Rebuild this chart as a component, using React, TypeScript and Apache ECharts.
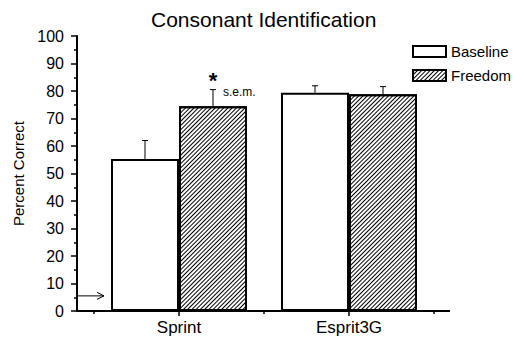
import React, { useEffect, useRef } from "react";
import * as echarts from "echarts";

const categories = ["Sprint", "Esprit3G"];
const baselineValues = [55.3, 79.4];
const baselineSem = [6.7, 2.5];
const freedomValues = [74.5, 78.8];
const freedomSem = [6.0, 2.8];
const freedomSignificance = ["*", ""];
const freedomNotes = ["s.e.m.", ""];
const chanceLevel = [5.5];
const yTicks = { min: 0, max: 100, interval: 10 };

const FONT = "'Liberation Sans', Arial, sans-serif";
const GRID_LEFT = 94;
const GRID_TOP = 36;
const GRID_W = 340;
const GRID_H = 275;
const Y_OFFSET = 17;

function errorSeries(name: string, values: number[], sem: number[], side: number, marks: string[], notes: string[]) {
  return {
    type: "custom",
    name,
    clip: false,
    z: 5,
    encode: { x: 0, y: 1 },
    data: values.map((v, i) => [i, v, sem[i]]),
    renderItem: (params: any, api: any) => {
      const idx = api.value(0);
      const v = api.value(1);
      const e = api.value(2);
      const d = params.dataIndex;
      const band = api.size([1, 0])[0];
      const base = api.coord([idx, v]);
      const top = api.coord([idx, v + e]);
      const x = base[0] + side * band * 0.2;
      const children: any[] = [
        { type: "line", shape: { x1: x, y1: base[1], x2: x, y2: top[1] }, style: { stroke: "#000", lineWidth: 1 } },
        { type: "line", shape: { x1: x - 3, y1: top[1], x2: x + 3, y2: top[1] }, style: { stroke: "#000", lineWidth: 1 } },
      ];
      const mark = marks[d];
      if (mark) {
        children.push({
          type: "text",
          style: { x: x, y: top[1] - 9, text: mark, fill: "#000", font: `bold 22px ${FONT}`, align: "center", verticalAlign: "middle" },
        });
      }
      const note = notes[d];
      if (note) {
        children.push({
          type: "text",
          style: { x: x + 10, y: top[1] + 2, text: note, fill: "#000", font: `12px ${FONT}`, align: "left", verticalAlign: "middle" },
        });
      }
      return { type: "group", children };
    },
  };
}

export default function App() {
  const ref = useRef<HTMLDivElement>(null);
  useEffect(() => {
    if (!ref.current) return;
    const chart = echarts.init(ref.current, null, { renderer: "svg" });
    const hatch = {
      symbol: "rect",
      symbolSize: 1,
      color: "#000",
      dashArrayX: [1, 0],
      dashArrayY: [1, 2],
      rotation: -Math.PI / 4,
    };
    const option: any = {
      animation: false,
      backgroundColor: "#fff",
      title: {
        text: "Consonant Identification",
        left: 151,
        top: 9,
        padding: 0,
        textStyle: { fontFamily: FONT, fontSize: 21, fontWeight: "normal", color: "#000" },
      },
      legend: {
        data: ["Baseline", "Freedom"],
        orient: "vertical",
        left: 412,
        top: 44,
        padding: 0,
        icon: "rect",
        itemWidth: 33,
        itemHeight: 11,
        itemGap: 9,
        itemTextGap: 4,
        textStyle: { fontFamily: FONT, fontSize: 15, color: "#000" },
        selectedMode: false,
      },
      grid: { left: GRID_LEFT, top: GRID_TOP, width: GRID_W, height: GRID_H },
      xAxis: [
        {
          type: "category",
          data: categories,
          position: "bottom",
          axisLine: { show: false },
          axisTick: { show: true, alignWithLabel: true, length: 5, lineStyle: { color: "#000", width: 1.5 } },
          axisLabel: { color: "#000", fontFamily: FONT, fontSize: 17, margin: 8 },
        },
        {
          type: "category",
          data: categories,
          position: "bottom",
          axisLine: { show: false },
          axisTick: { show: true, alignWithLabel: false, length: 3, lineStyle: { color: "#000", width: 1.5 } },
          axisLabel: { show: false },
        },
      ],
      yAxis: {
        type: "value",
        min: yTicks.min,
        max: yTicks.max,
        interval: yTicks.interval,
        offset: Y_OFFSET,
        name: "Percent Correct",
        nameLocation: "middle",
        nameGap: 50,
        nameTextStyle: { fontFamily: FONT, fontSize: 15, color: "#000" },
        axisLine: { show: true, lineStyle: { color: "#000", width: 2 } },
        axisTick: { show: true, length: 6, lineStyle: { color: "#000", width: 1.5 } },
        minorTick: { show: true, splitNumber: 2, length: 3, lineStyle: { color: "#000", width: 1.5 } },
        splitLine: { show: false },
        axisLabel: { color: "#000", fontFamily: FONT, fontSize: 16, margin: 13 },
      },
      graphic: [
        {
          type: "line",
          z: 100,
          shape: { x1: GRID_LEFT - Y_OFFSET, y1: GRID_TOP + GRID_H, x2: GRID_LEFT + GRID_W + 16, y2: GRID_TOP + GRID_H },
          style: { stroke: "#000", lineWidth: 2 },
        },
      ],
      series: [
        {
          type: "bar",
          name: "Baseline",
          data: baselineValues,
          barWidth: "40%",
          barGap: "0%",
          itemStyle: { color: "#fff", borderColor: "#000", borderWidth: 2 },
        },
        {
          type: "bar",
          name: "Freedom",
          data: freedomValues,
          barWidth: "40%",
          barGap: "0%",
          itemStyle: { color: "#fff", borderColor: "#000", borderWidth: 2, decal: hatch },
        },
        errorSeries("Baseline s.e.m.", baselineValues, baselineSem, -1, ["", ""], ["", ""]),
        errorSeries("Freedom s.e.m.", freedomValues, freedomSem, 1, freedomSignificance, freedomNotes),
        {
          type: "custom",
          name: "Chance",
          clip: false,
          z: 6,
          encode: { x: 0, y: 1 },
          data: chanceLevel.map((v) => [0, v]),
          renderItem: (params: any, api: any) => {
            const y = api.coord([0, api.value(1)])[1];
            const x1 = params.coordSys.x - Y_OFFSET;
            const x2 = x1 + 27;
            return {
              type: "group",
              children: [
                { type: "line", shape: { x1, y1: y, x2, y2: y }, style: { stroke: "#000", lineWidth: 1 } },
                { type: "polyline", shape: { points: [[x2 - 7, y - 3.5], [x2, y], [x2 - 7, y + 3.5]] }, style: { stroke: "#000", fill: "none", lineWidth: 1 } },
              ],
            };
          },
        },
      ],
    };
    chart.setOption(option);
    return () => chart.dispose();
  }, []);
  return <div ref={ref} style={{ position: "fixed", left: 0, top: 0, width: 514, height: 340 }} />;
}
